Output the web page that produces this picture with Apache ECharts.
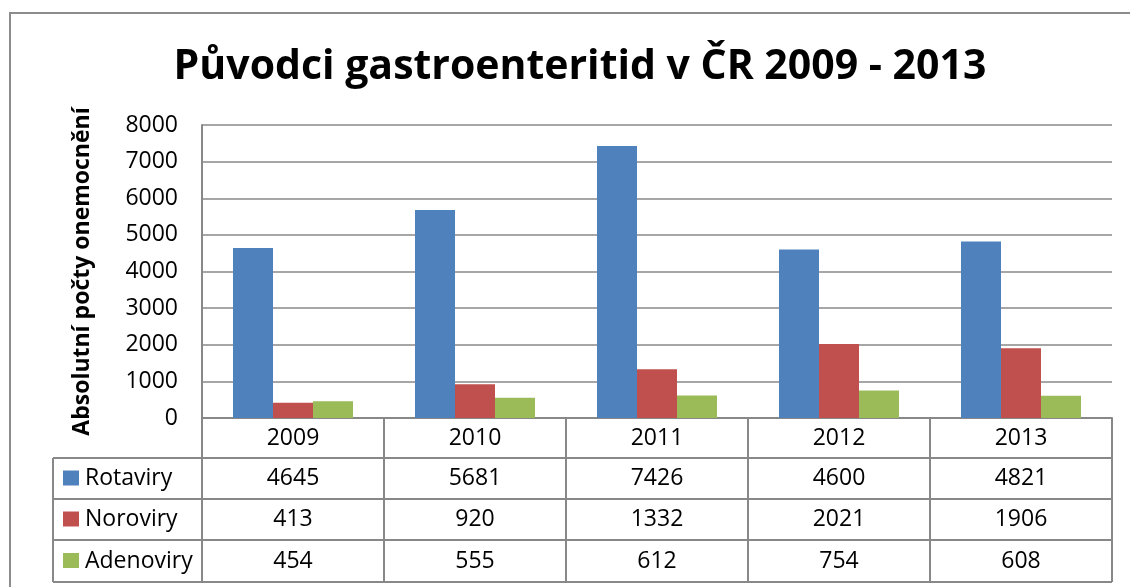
<!DOCTYPE html>
<html>
<head>
<meta charset="utf-8">
<title>Původci gastroenteritid</title>
<script src="https://cdn.jsdelivr.net/npm/echarts@6/dist/echarts.min.js"></script>
<style>
  html, body { margin: 0; padding: 0; background: #fff; }
  #chart { width: 1130px; height: 587px; }
</style>
</head>
<body>
<div id="chart"></div>
<script>
// data
var years = ['2009', '2010', '2011', '2012', '2013']
var seriesNames = ['Rotaviry', 'Noroviry', 'Adenoviry']
var rotaviry = [4645, 5681, 7426, 4600, 4821]
var noroviry = [413, 920, 1332, 2021, 1906]
var adenoviry = [454, 555, 612, 754, 608]
var yTicks = [0, 1000, 2000, 3000, 4000, 5000, 6000, 7000, 8000]

var values = [rotaviry, noroviry, adenoviry]
var colors = ['#4F81BD', '#C0504D', '#9BBB59']
var font = '"Open Sans", "Noto Sans", sans-serif'
var lineColor = '#888888'

// layout of plot area + data table
var plotLeft = 202
var plotRight = 1112
var plotTop = 125
var plotBottom = 418
var catW = (plotRight - plotLeft) / years.length
var tableLeft = 53
var rowTops = [458, 499, 540, 582]

var chart = echarts.init(document.getElementById('chart'))

var graphics = []
// outer frame (runs off the page at right and bottom)
graphics.push({
  type: 'rect', silent: true,
  shape: { x: 10, y: 13, width: 1140, height: 600 },
  style: { fill: 'none', stroke: '#8c8c8c', lineWidth: 2 }
})
// table horizontal lines
rowTops.forEach(function (y) {
  graphics.push({
    type: 'line', silent: true,
    shape: { x1: tableLeft, y1: y, x2: plotRight, y2: y },
    style: { stroke: lineColor, lineWidth: 2 }
  })
})
// table vertical lines
graphics.push({
  type: 'line', silent: true,
  shape: { x1: tableLeft, y1: rowTops[0], x2: tableLeft, y2: rowTops[3] },
  style: { stroke: lineColor, lineWidth: 2 }
})
for (var i = 0; i <= years.length; i++) {
  var x = plotLeft + i * catW
  graphics.push({
    type: 'line', silent: true,
    shape: { x1: x, y1: plotBottom, x2: x, y2: rowTops[3] },
    style: { stroke: lineColor, lineWidth: 2 }
  })
}
// row labels, legend keys and values
seriesNames.forEach(function (name, r) {
  var cy = (rowTops[r] + rowTops[r + 1]) / 2
  graphics.push({
    type: 'rect', silent: true,
    shape: { x: 63, y: cy - 8, width: 16, height: 15 },
    style: { fill: colors[r] }
  })
  graphics.push({
    type: 'text', silent: true, x: 85, y: cy,
    style: { text: name, font: '23px ' + font, fill: '#000', align: 'left', verticalAlign: 'middle' }
  })
  values[r].forEach(function (v, c) {
    graphics.push({
      type: 'text', silent: true, x: plotLeft + (c + 0.5) * catW, y: cy,
      style: { text: String(v), font: '23px ' + font, fill: '#000', align: 'center', verticalAlign: 'middle' }
    })
  })
})

chart.setOption({
  animation: false,
  title: {
    text: 'Původci gastroenteritid v ČR 2009 - 2013',
    left: 575,
    textAlign: 'center',
    top: 42,
    textStyle: { fontFamily: font, fontWeight: 'bold', fontSize: 41, color: '#000' }
  },
  grid: {
    left: plotLeft,
    top: plotTop,
    width: plotRight - plotLeft,
    height: plotBottom - plotTop,
    containLabel: false
  },
  xAxis: {
    type: 'category',
    data: years,
    axisLine: { lineStyle: { color: lineColor, width: 2 } },
    axisTick: { show: false },
    axisLabel: { margin: 9, fontFamily: font, fontSize: 23, color: '#000' }
  },
  yAxis: {
    type: 'value',
    min: yTicks[0],
    max: yTicks[yTicks.length - 1],
    interval: 1000,
    name: 'Absolutní počty onemocnění',
    nameLocation: 'middle',
    nameGap: 108,
    nameTextStyle: { fontFamily: font, fontWeight: 'bold', fontSize: 23, color: '#000' },
    axisLine: { show: true, lineStyle: { color: lineColor, width: 2 } },
    axisTick: { show: false },
    axisLabel: {
      margin: 24, fontFamily: font, fontSize: 23, color: '#000',
      formatter: function (v) { return String(v) }
    },
    splitLine: { lineStyle: { color: lineColor, width: 1.5 } }
  },
  series: seriesNames.map(function (name, r) {
    return {
      name: name,
      type: 'bar',
      data: values[r],
      barWidth: 40,
      barGap: '0%',
      itemStyle: { color: colors[r] }
    }
  }),
  graphic: graphics
})
</script>
</body>
</html>
